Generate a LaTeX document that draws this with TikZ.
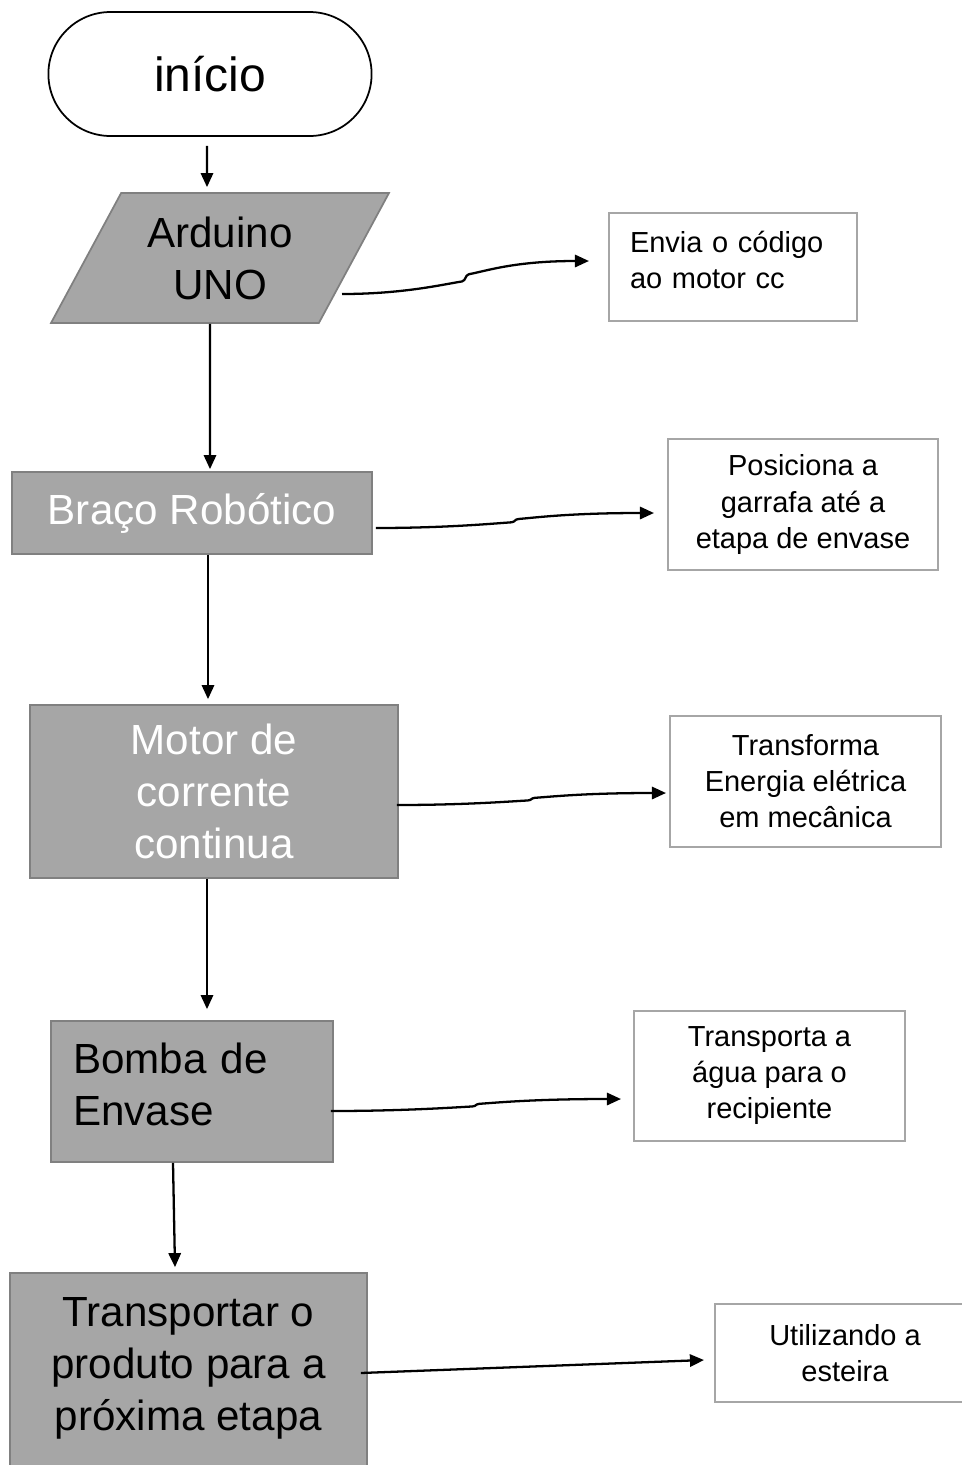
\documentclass[tikz,border=0pt]{standalone}
\usepackage{fontspec}
\setmainfont{Liberation Sans}
\usetikzlibrary{
    arrows.meta,
    calc,
    positioning,
    shapes.geometric,
    shapes.misc,
}
\definecolor{BoxGray}{HTML}{A6A6A6}
\definecolor{EdgeGray}{HTML}{808080}
\definecolor{NoteGray}{HTML}{A6A6A6}
\tikzset{
    >={Triangle[length=8pt,width=7pt]}
}

\begin{document}
\begin{tikzpicture}[
    x=0.02cm,y=-0.02cm,
    bigtxt/.style={font=\fontsize{24}{29.6}\selectfont},
    smalltxt/.style={font=\fontsize{16.5}{20.5}\selectfont},
    mainbox/.style={draw=EdgeGray,line width=1pt,fill=BoxGray,inner sep=0pt,align=center,bigtxt},
    note/.style={draw=NoteGray,line width=1.2pt,fill=white,inner sep=0pt,align=center,smalltxt},
    arr/.style={->,line width=1.3pt},
    wig/.style={to path={let \p1=(\tikztostart),\p2=(\tikztotarget),\p3=($(\p1)!.5!(\p2)$),\n1={\y2-\y1} in
        (\p1) .. controls ($(\p1)!.5!(\x3,\y1)$) and ({\x3-12pt},{\y1+0.3*\n1}) .. ({\x3-2pt},{\y1+0.38*\n1})
        .. controls ({\x3+0.5pt},{\y1+0.42*\n1}) and ({\x3-0.5pt},{\y1+0.56*\n1}) .. ({\x3+2pt},{\y1+0.6*\n1})
        .. controls ({\x3+12pt},{\y1+0.7*\n1}) and ($(\p2)!.6!(\x3,\y2)$) .. (\p2)}}
    ]
    \useasboundingbox (0,0) rectangle (962,1465);
    \clip (0,0) rectangle (962,1465);

    % flow column
    \node[draw,line width=1pt,rounded rectangle,minimum width=6.7cm,minimum height=2.48cm,
        font=\fontsize{27.3}{32}\selectfont] (start) at (210,74) {início};
    \node[mainbox,trapezium,trapezium left angle=49.8,trapezium right angle=130.2,trapezium stretches body,
        minimum width=6.76cm,minimum height=2.6cm] (arduino) at (220,258) {Arduino\\UNO};
    \node[mainbox,text=white,minimum width=7.2cm,minimum height=1.64cm] (braco) at (192,513) {Braço Robótico};
    \node[mainbox,text=white,minimum width=7.36cm,minimum height=3.46cm] (motor) at (214,791.5) {Motor de\\corrente\\continua};
    \node[mainbox,minimum width=5.64cm,minimum height=2.82cm,
        label={[bigtxt,align=left,text width=4.76cm,yshift=0.14cm]center:Bomba de\\Envase}] (bomba) at (192,1091.5) {};
    \node[mainbox,minimum width=7.14cm,minimum height=4.04cm,
        label={[bigtxt,align=center,yshift=0.12cm]center:Transportar o\\produto para a\\próxima etapa}] (transp) at (188.5,1374) {};

    % notes on the right
    \node[note,minimum width=4.96cm,minimum height=2.16cm,
        label={[smalltxt,align=left,text width=4.12cm,yshift=0.14cm]center:Envia o código\\ao motor cc}] (envia) at (733,267) {};
    \node[note,minimum width=5.4cm,minimum height=2.62cm] (posiciona) at (803,504.5) {Posiciona a\\garrafa até a\\etapa de envase};
    \node[note,minimum width=5.42cm,minimum height=2.62cm] (transforma) at (805.5,781.5) {Transforma\\Energia elétrica\\em mecânica};
    \node[note,minimum width=5.42cm,minimum height=2.6cm] (transporta) at (769.5,1076) {Transporta a\\água para o\\recipiente};
    \node[note,minimum width=5.2cm,minimum height=1.96cm] (utilizando) at (845,1353) {Utilizando a\\esteira};

    % down arrows
    \draw[arr] ($(start.south)+(-3,9)$) -- ($(arduino.north)+(-13,-5)$);
    \draw[arr] ($(arduino.south)+(-10,0)$) -- ($(braco.north)+(18,-2)$);
    \draw[arr] ($(braco.south)+(16,0)$) -- ($(motor.north)+(-6,-5)$);
    \draw[arr] ($(motor.south)+(-7,0)$) -- ($(bomba.north)+(15,-11)$);
    \draw[arr] ($(bomba.south)+(-19,0)$) -- ($(transp.north)+(-13.5,-5)$);

    % side arrows
    \draw[arr] ($(arduino.center)+(122,36)$) to[wig] ($(envia.west)+(-19,-6)$);
    \draw[arr] ($(braco.east)+(3,15)$) to[wig] ($(posiciona.west)+(-13,8.5)$);
    \draw[arr] ($(motor.east)+(-2,13.5)$) to[wig] ($(transforma.west)+(-3,11.5)$);
    \draw[arr] ($(bomba.east)+(-3,19.5)$) to[wig] ($(transporta.west)+(-12,23)$);
    \draw[arr] ($(transp.east)+(-7,-1)$) -- ($(utilizando.west)+(-10,7)$);
\end{tikzpicture}
\end{document}
